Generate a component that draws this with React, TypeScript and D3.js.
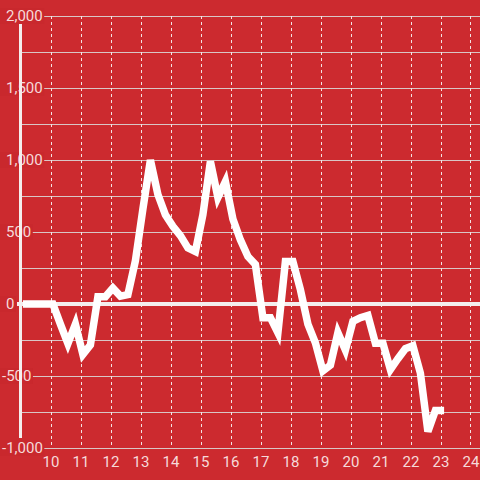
import { useRef, useEffect } from "react";
import * as d3 from "d3";

// Hours of the day (5 past each quarter) and the running value at that time
const hours = [
  9.08, 9.33, 9.58, 9.83, 10.08, 10.33, 10.58, 10.83, 11.08, 11.33, 11.58,
  11.83, 12.08, 12.33, 12.58, 12.83, 13.08, 13.33, 13.58, 13.83, 14.08, 14.33,
  14.58, 14.83, 15.08, 15.33, 15.58, 15.83, 16.08, 16.33, 16.58, 16.83, 17.08,
  17.33, 17.58, 17.83, 18.08, 18.33, 18.58, 18.83, 19.08, 19.33, 19.58, 19.83,
  20.08, 20.33, 20.58, 20.83, 21.08, 21.33, 21.58, 21.83, 22.08, 22.33, 22.58,
  22.83, 23.12,
];
const values = [
  0, 0, 0, 0, 0, -140, -275, -140, -350, -285, 50, 50, 110, 55, 65, 300, 660,
  1000, 760, 620, 540, 475, 390, 365, 620, 990, 740, 850, 590, 445, 330, 275,
  -95, -95, -200, 295, 295, 100, -140, -270, -465, -425, -200, -320, -120, -95,
  -80, -272, -272, -455, -380, -310, -290, -480, -885, -740, -740,
];

const xTicks = [10, 11, 12, 13, 14, 15, 16, 17, 18, 19, 20, 21, 22, 23, 24];
const yGrid = [-1000, -750, -500, -250, 0, 250, 500, 750, 1000, 1250, 1500, 1750, 2000];
const yLabels = [-1000, -500, 0, 500, 1000, 1500, 2000];

const width = 480;
const height = 480;
const bg = "#cc2a2f";
const textColor = "#f6dada";

export default function App() {
  const ref = useRef<SVGSVGElement>(null);

  useEffect(() => {
    if (!ref.current) return;
    const svg = d3.select(ref.current);
    svg.selectAll("*").remove();

    const x = d3.scaleLinear().domain([9, 24.3]).range([20.5, 479.5]);
    const y = d3.scaleLinear().domain([-1000, 2000]).range([448, 16]);

    svg.append("rect").attr("width", width).attr("height", height).attr("fill", bg);

    // Horizontal grid
    svg
      .append("g")
      .selectAll("line")
      .data(yGrid)
      .join("line")
      .attr("x1", 20)
      .attr("x2", width)
      .attr("y1", (d) => Math.round(y(d)) + 0.5)
      .attr("y2", (d) => Math.round(y(d)) + 0.5)
      .attr("stroke", "#d9c6c6")
      .attr("stroke-width", 1.2);

    // Vertical dashed grid
    svg
      .append("g")
      .selectAll("line")
      .data(xTicks)
      .join("line")
      .attr("x1", (d) => Math.round(x(d)) + 0.5)
      .attr("x2", (d) => Math.round(x(d)) + 0.5)
      .attr("y1", y(2000))
      .attr("y2", y(-1000))
      .attr("stroke", "#f3e4e4")
      .attr("stroke-width", 1)
      .attr("stroke-dasharray", "3 3");

    // Zero line
    svg
      .append("line")
      .attr("x1", 17)
      .attr("x2", width)
      .attr("y1", y(0))
      .attr("y2", y(0))
      .attr("stroke", "#f4eeee")
      .attr("stroke-width", 4);

    // Y labels with background boxes
    const yl = svg.append("g").attr("font-family", "Roboto, sans-serif").attr("font-size", 15);
    yLabels.forEach((d) => {
      const t = yl
        .append("text")
        .attr("x", d < 0 ? 2 : 6)
        .attr("y", y(d))
        .attr("dy", "0.35em")
        .attr("fill", textColor)
        .text(d3.format(",")(d).replace("−", "-"));
      const bb = (t.node() as SVGTextElement).getBBox();
      yl.insert("rect", "text")
        .attr("x", 0)
        .attr("y", y(d) - 8)
        .attr("width", bb.x + bb.width + 1.5)
        .attr("height", 16)
        .attr("fill", "#c9282d");
    });

    // Y axis line
    svg
      .append("line")
      .attr("x1", 20.5)
      .attr("x2", 20.5)
      .attr("y1", 24)
      .attr("y2", 438)
      .attr("stroke", "#f4eeee")
      .attr("stroke-width", 3);

    // X labels
    svg
      .append("g")
      .selectAll("text")
      .data(xTicks)
      .join("text")
      .attr("x", (d) => x(d) + 0.5)
      .attr("y", 467)
      .attr("text-anchor", "middle")
      .attr("font-family", "Roboto, sans-serif")
      .attr("font-size", 15)
      .attr("fill", textColor)
      .text((d) => d);

    // Series
    const line = d3
      .line<number>()
      .x((_, i) => x(hours[i]))
      .y((d) => y(d));

    svg
      .append("path")
      .datum(values)
      .attr("d", line)
      .attr("fill", "none")
      .attr("stroke", "#ffffff")
      .attr("stroke-width", 7.5)
      .attr("stroke-linejoin", "miter")
      .attr("stroke-linecap", "butt");
  }, []);

  return (
    <svg
      ref={ref}
      width={width}
      height={height}
      style={{ position: "absolute", left: 0, top: 0, display: "block" }}
    />
  );
}
